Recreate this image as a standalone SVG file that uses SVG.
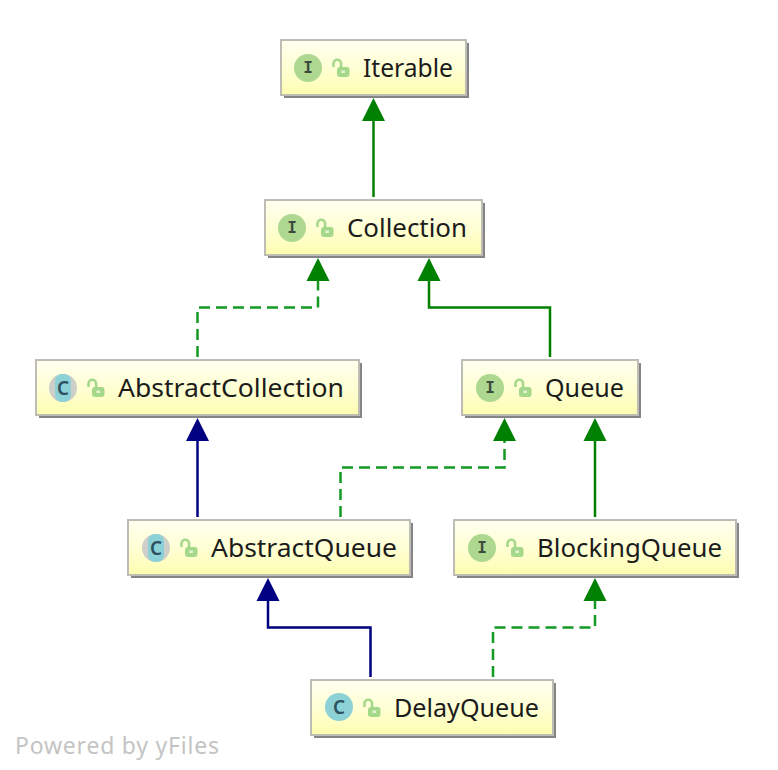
<svg xmlns="http://www.w3.org/2000/svg" width="778" height="770" viewBox="0 0 778 770">
<style>
.box{fill:url(#g);stroke:#bdbdb5;stroke-width:2}
.sh{fill:#858585}
.lbl{font-family:"Noto Sans","Open Sans",sans-serif;font-size:26px;fill:#1c1c1c}
.ic{font-family:"DejaVu Sans Mono","Liberation Mono",monospace;font-size:16px;font-weight:bold;fill:#3d4a3d;text-anchor:middle}
.cc{font-family:"Noto Sans",sans-serif;font-size:19px;font-weight:600;fill:#2f5060;text-anchor:middle}
.g{fill:none;stroke:#008000;stroke-width:2.500}
.b{fill:none;stroke:#000080;stroke-width:2.500}
.d{stroke:#129a22;stroke-dasharray:11 6}
.ah{fill:#008000}.bh{fill:#000080}
.lock{fill:#a5d88a}
.shk{fill:none;stroke:#a5d88a;stroke-width:2.600}
.ci{fill:#aed88f}.cl{fill:#8bd1d6}
</style>
<defs>
<linearGradient id="g" x1="0" y1="0" x2="0" y2="1"><stop offset="0" stop-color="#ffffef"/><stop offset="0.55" stop-color="#ffffd2"/><stop offset="1" stop-color="#fdfdb0"/></linearGradient>
<g id="lk"><path class="shk" d="M-6.500 -1V-4.500a3.800 3.800 0 0 1 7.600 0V0"/><rect class="lock" x="-3" y="-1" width="12.500" height="10" rx="3"/><rect x="1.500" y="2.500" width="3.500" height="2.500" fill="#e4f3d6"/></g>
</defs>
<g id="connectors">
<path class="g" d="M373.500 197V118"/><path class="ah" d="M373.500 98L385 121H362Z"/>
<path class="g d" d="M197.500 357V307.500H318V278"/><path class="ah" d="M318 258L329.500 281H306.500Z"/>
<path class="g" d="M550 357V307.500H429V278"/><path class="ah" d="M429 258L440.500 281H417.500Z"/>
<path class="b" d="M197.500 517V438"/><path class="bh" d="M197.500 418L209 441H186Z"/>
<path class="g d" d="M340.500 517V467.500H504.500V438"/><path class="ah" d="M504.500 418L516 441H493Z"/>
<path class="g" d="M595 517V438"/><path class="ah" d="M595 418L606.500 441H583.500Z"/>
<path class="b" d="M370.500 677V627.500H268V598"/><path class="bh" d="M268 578L279.500 601H256.500Z"/>
<path class="g d" d="M493 677V627.500H595V598"/><path class="ah" d="M595 578L606.500 601H583.500Z"/>
</g>
<g id="iterable"><rect class="sh" x="284" y="43" width="185" height="55"/><rect class="box" x="281" y="40" width="185" height="55"/><circle class="ci" cx="308" cy="68" r="14"/><text class="ic" x="308" y="73">I</text><use href="#lk" x="340" y="68"/><text class="lbl" x="363" y="77" textLength="90" lengthAdjust="spacingAndGlyphs">Iterable</text></g>
<g id="collection"><rect class="sh" x="268" y="203" width="217" height="55"/><rect class="box" x="265" y="200" width="217" height="55"/><circle class="ci" cx="292" cy="228" r="14"/><text class="ic" x="292" y="233">I</text><use href="#lk" x="324" y="228"/><text class="lbl" x="347" y="237" textLength="120" lengthAdjust="spacingAndGlyphs">Collection</text></g>
<g id="abstractcollection"><rect class="sh" x="39" y="363" width="323" height="55"/><rect class="box" x="36" y="360" width="323" height="55"/><circle cx="63" cy="388" r="14" fill="#cfcfca"/><rect class="cl" x="55" y="374" width="16" height="28" rx="7"/><text class="cc" x="63" y="394.500">C</text><use href="#lk" x="95" y="388"/><text class="lbl" x="118" y="397" textLength="226" lengthAdjust="spacingAndGlyphs">AbstractCollection</text></g>
<g id="queue"><rect class="sh" x="465" y="363" width="176" height="55"/><rect class="box" x="462" y="360" width="176" height="55"/><circle class="ci" cx="490" cy="388" r="14"/><text class="ic" x="490" y="393">I</text><use href="#lk" x="522" y="388"/><text class="lbl" x="545" y="397" textLength="79" lengthAdjust="spacingAndGlyphs">Queue</text></g>
<g id="abstractqueue"><rect class="sh" x="131" y="523" width="282" height="55"/><rect class="box" x="128" y="520" width="282" height="55"/><circle cx="156" cy="548" r="14" fill="#cfcfca"/><rect class="cl" x="148" y="534" width="16" height="28" rx="7"/><text class="cc" x="156" y="554.500">C</text><use href="#lk" x="188" y="548"/><text class="lbl" x="211" y="557" textLength="186" lengthAdjust="spacingAndGlyphs">AbstractQueue</text></g>
<g id="blockingqueue"><rect class="sh" x="457" y="523" width="282" height="55"/><rect class="box" x="454" y="520" width="282" height="55"/><circle class="ci" cx="482" cy="548" r="14"/><text class="ic" x="482" y="553">I</text><use href="#lk" x="514" y="548"/><text class="lbl" x="537" y="557" textLength="185" lengthAdjust="spacingAndGlyphs">BlockingQueue</text></g>
<g id="delayqueue"><rect class="sh" x="314" y="683" width="242" height="55"/><rect class="box" x="311" y="680" width="242" height="55"/><circle class="cl" cx="339" cy="707" r="14"/><text class="cc" x="339" y="713.500">C</text><use href="#lk" x="371" y="708"/><text class="lbl" x="394" y="717" textLength="145" lengthAdjust="spacingAndGlyphs">DelayQueue</text></g>
<text x="15" y="754" font-family="Noto Sans,sans-serif" font-size="23" fill="#c4c4c4" textLength="204">Powered by yFiles</text>
</svg>
